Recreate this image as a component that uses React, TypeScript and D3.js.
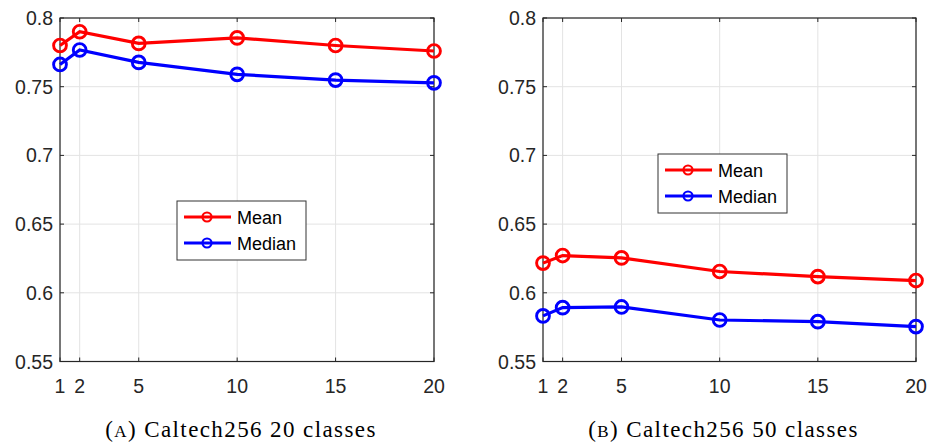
import React from "react";
import * as d3 from "d3";

const xs = [1, 2, 5, 10, 15, 20];
const meanA = [0.780, 0.790, 0.7815, 0.7855, 0.780, 0.776];
const medianA = [0.7662, 0.7767, 0.7677, 0.759, 0.7548, 0.7528];
const meanB = [0.6216, 0.6271, 0.6254, 0.6155, 0.6118, 0.6089];
const medianB = [0.5832, 0.5892, 0.5897, 0.5802, 0.579, 0.5754];
const yTicks = [0.55, 0.6, 0.65, 0.7, 0.75, 0.8];
const yTickLabels = ["0.55", "0.6", "0.65", "0.7", "0.75", "0.8"];
const seriesNames = ["Mean", "Median"];
const seriesColors = ["#ff0000", "#0000ff"];

const panels = [
  { left: 60, right: 434, letter: "A", title: "Caltech256 20 classes", mean: meanA, median: medianA, legend: [177, 201] },
  { left: 543, right: 916, letter: "B", title: "Caltech256 50 classes", mean: meanB, median: medianB, legend: [658, 154] },
];

const top = 18;
const bottom = 361.5;
const axisColor = "#262626";
const sans = "'Liberation Sans', Arial, sans-serif";
const serif = "'Liberation Serif', 'Times New Roman', serif";

function Panel({ p }: { p: (typeof panels)[number] }) {
  const x = d3.scaleLinear().domain([1, 20]).range([p.left, p.right]);
  const y = d3.scaleLinear().domain([0.55, 0.8]).range([bottom, top]);
  const line = d3.line<number>().x((_, i) => x(xs[i])).y((d) => y(d));
  const series = [p.mean, p.median];
  const [lx, ly] = p.legend;
  const cx = (p.left + p.right) / 2 - 6;
  return (
    <g>
      {/* grid */}
      {xs.map((v) => (
        <line key={"gx" + v} x1={x(v)} x2={x(v)} y1={top} y2={bottom} stroke="#e3e3e3" strokeWidth={1} />
      ))}
      {yTicks.map((v) => (
        <line key={"gy" + v} x1={p.left} x2={p.right} y1={y(v)} y2={y(v)} stroke="#e3e3e3" strokeWidth={1} />
      ))}
      {/* ticks */}
      {xs.map((v) => (
        <g key={"tx" + v}>
          <line x1={x(v)} x2={x(v)} y1={bottom} y2={bottom - 4} stroke={axisColor} />
          <line x1={x(v)} x2={x(v)} y1={top} y2={top + 4} stroke={axisColor} />
          <text x={x(v)} y={393} textAnchor="middle" fontFamily={sans} fontSize={19.5} fill={axisColor}>
            {v}
          </text>
        </g>
      ))}
      {yTicks.map((v, i) => (
        <g key={"ty" + v}>
          <line x1={p.left} x2={p.left + 4} y1={y(v)} y2={y(v)} stroke={axisColor} />
          <line x1={p.right} x2={p.right - 4} y1={y(v)} y2={y(v)} stroke={axisColor} />
          <text x={p.left - 7} y={y(v) + 7} textAnchor="end" fontFamily={sans} fontSize={19.5} fill={axisColor}>
            {yTickLabels[i]}
          </text>
        </g>
      ))}
      <rect x={p.left} y={top} width={p.right - p.left} height={bottom - top} fill="none" stroke={axisColor} strokeWidth={1.2} />
      {/* series */}
      {series.map((s, k) => (
        <g key={"s" + k}>
          <path d={line(s) ?? ""} fill="none" stroke={seriesColors[k]} strokeWidth={3.2} />
          {s.map((d, i) => (
            <circle key={i} cx={x(xs[i])} cy={y(d)} r={6.4} fill="none" stroke={seriesColors[k]} strokeWidth={2.9} />
          ))}
        </g>
      ))}
      {/* legend */}
      <rect x={lx} y={ly} width={129} height={59} fill="#fff" stroke="#333" strokeWidth={1} />
      {seriesNames.map((n, k) => (
        <g key={n}>
          <line x1={lx + 7} x2={lx + 54} y1={ly + 16 + k * 26} y2={ly + 16 + k * 26} stroke={seriesColors[k]} strokeWidth={3} />
          <circle cx={lx + 30} cy={ly + 16 + k * 26} r={4.5} fill="none" stroke={seriesColors[k]} strokeWidth={2.2} />
          <text x={lx + 60} y={ly + 22.5 + k * 26} fontFamily={sans} fontSize={18} fill="#000">
            {n}
          </text>
        </g>
      ))}
      {/* caption */}
      <text x={cx} y={437} textAnchor="middle" fontFamily={serif} fontSize={23} letterSpacing={1.4} fill="#000">
        (<tspan fontSize={17}>{p.letter}</tspan>) {p.title}
      </text>
    </g>
  );
}

export default function App() {
  return (
    <svg width={930} height={445} style={{ position: "absolute", left: 0, top: 0, background: "#fff" }}>
      <rect width={930} height={445} fill="#fff" />
      {panels.map((p) => (
        <Panel key={p.letter} p={p} />
      ))}
    </svg>
  );
}
